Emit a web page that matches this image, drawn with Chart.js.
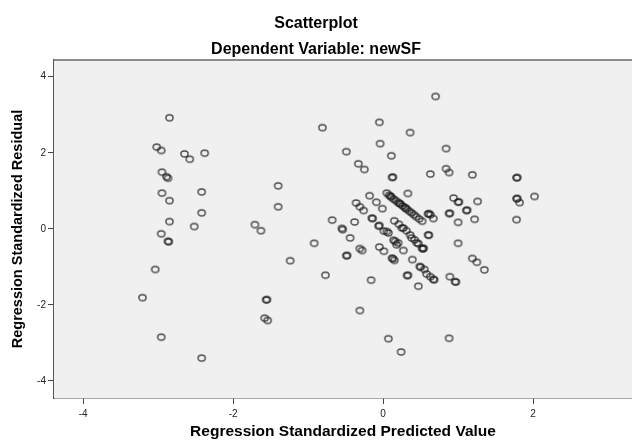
<!DOCTYPE html>
<html>
<head>
<meta charset="utf-8">
<script src="https://cdn.jsdelivr.net/npm/chart.js@4.4.1/dist/chart.umd.min.js"></script>
<style>
  html, body { margin: 0; padding: 0; background: #ffffff; }
  #wrap { width: 632px; height: 440px; }
</style>
</head>
<body>
<div id="wrap"><canvas id="chart" width="632" height="440"></canvas></div>
<script>
// Regression residual diagnostics: standardized predicted value (x) vs standardized residual (y)
const chartTitle = 'Scatterplot';
const chartSubtitle = 'Dependent Variable: newSF';
const xAxisTitle = 'Regression Standardized Predicted Value';
const yAxisTitle = 'Regression Standardized Residual';
const xTickValues = [-4, -2, 0, 2];
const yTickValues = [-4, -2, 0, 2, 4];

// Cases with low predicted values
const lowGroup = [
  [-2.85, 2.92], [-3.02, 2.15], [-2.96, 2.06], [-2.65, 1.97], [-2.58, 1.83], [-2.38, 1.99],
  [-2.95, 1.49], [-2.89, 1.37], [-2.87, 1.33], [-2.95, 0.94], [-2.85, 0.74], [-2.42, 0.97],
  [-2.42, 0.42], [-2.85, 0.19], [-2.52, 0.06], [-2.96, -0.13], [-2.87, -0.33], [-2.86, -0.34],
  [-3.04, -1.07], [-3.21, -1.81], [-2.96, -2.85], [-2.42, -3.40]
];

// Cases between -2 and -1
const midLowGroup = [
  [-1.40, 1.13], [-1.40, 0.58], [-1.71, 0.11], [-1.63, -0.05], [-1.24, -0.84],
  [-1.55, -1.86], [-1.56, -1.87], [-1.58, -2.35], [-1.54, -2.41]
];

// Cases around zero
const centerGroup = [
  [-0.81, 2.66], [-0.92, -0.38], [-0.77, -1.22], [-0.68, 0.23], [-0.55, 0.01], [-0.54, -0.02],
  [-0.49, 2.03], [-0.44, -0.24], [-0.48, -0.70], [-0.49, -0.71], [-0.38, 0.18], [-0.36, 0.68],
  [-0.31, 0.58], [-0.26, 0.48], [-0.33, 1.71], [-0.25, 1.56], [-0.31, -0.52], [-0.28, -0.57],
  [-0.31, -2.15], [-0.18, 0.87], [-0.09, 0.70], [-0.01, 0.53], [-0.15, 0.28], [-0.14, 0.27],
  [-0.05, 0.09], [-0.06, 0.07], [-0.16, -1.35], [-0.05, -0.48], [0.01, -0.59], [-0.05, 2.80],
  [-0.04, 2.24], [0.05, 0.94], [0.11, 1.92], [0.12, 1.35], [0.13, 1.36], [0.36, 2.53],
  [0.33, 0.93], [0.07, -2.89], [0.24, -3.24], [0.70, 3.48], [0.01, -0.06], [0.07, -0.11],
  [0.05, -0.07], [0.14, -0.30], [0.16, -0.33], [0.18, -0.42], [0.20, -0.37], [0.27, -0.57],
  [0.12, -0.77], [0.13, -0.79], [0.15, -0.83], [0.39, -0.81], [0.32, -1.23], [0.33, -1.22],
  [0.47, -1.51], [0.49, -0.99], [0.55, -1.07], [0.50, -1.01], [0.58, -1.19], [0.63, -1.26],
  [0.68, -1.34], [0.67, -1.33]
];

// Dense diagonal bands just right of zero
const bandUpper = [
  [0.08, 0.88], [0.11, 0.83], [0.14, 0.78], [0.17, 0.74], [0.20, 0.69], [0.23, 0.65],
  [0.26, 0.60], [0.29, 0.56], [0.32, 0.51], [0.35, 0.46], [0.38, 0.42], [0.41, 0.37],
  [0.44, 0.32], [0.48, 0.26], [0.52, 0.20], [0.10, 0.86], [0.22, 0.67], [0.30, 0.54]
];
const bandLower = [
  [0.15, 0.21], [0.21, 0.12], [0.25, 0.02], [0.27, 0.02], [0.31, -0.05], [0.36, -0.16],
  [0.38, -0.24], [0.42, -0.29], [0.45, -0.37], [0.47, -0.39], [0.52, -0.51], [0.53, -0.53]
];

// Cases with higher predicted values
const highGroup = [
  [0.63, 1.44], [0.84, 2.11], [0.84, 1.58], [0.88, 1.48], [1.19, 1.42], [1.78, 1.34], [1.79, 1.35],
  [0.94, 0.81], [1.00, 0.70], [1.01, 0.71], [1.26, 0.72], [1.78, 0.79], [1.79, 0.80], [1.82, 0.69],
  [2.02, 0.85], [0.60, 0.39], [0.61, 0.40], [0.67, 0.27], [0.63, 0.37], [0.88, 0.40], [0.89, 0.41],
  [1.11, 0.48], [1.12, 0.49], [1.00, 0.17], [1.22, 0.25], [1.78, 0.24], [1.00, -0.38],
  [1.19, -0.78], [1.25, -0.88], [1.35, -1.08], [0.89, -1.26], [0.96, -1.39], [0.97, -1.40],
  [0.88, -2.88], [0.54, -0.51], [0.60, -0.16], [0.61, -0.17]
];

const allCases = [].concat(lowGroup, midLowGroup, centerGroup, bandUpper, bandLower, highGroup)
  .map(([x, y]) => ({ x, y }));

// Small open ring used as the marker
function ringMarker() {
  const c = document.createElement('canvas');
  c.width = 11; c.height = 10;
  const g = c.getContext('2d');
  g.strokeStyle = 'rgba(25,25,25,0.78)';
  g.lineWidth = 1.4;
  g.beginPath();
  g.ellipse(5.5, 5, 3.6, 3.0, 0, 0, Math.PI * 2);
  g.stroke();
  return c;
}

// Light grey plotting panel with a grey top edge
const plotPanel = {
  id: 'plotPanel',
  beforeDatasetsDraw(chart) {
    const { ctx, chartArea: a } = chart;
    ctx.save();
    ctx.fillStyle = '#f0f0f0';
    ctx.fillRect(a.left, a.top, a.right - a.left, a.bottom - a.top);
    ctx.strokeStyle = '#8c8c8c';
    ctx.lineWidth = 2;
    ctx.beginPath();
    ctx.moveTo(a.left, a.top);
    ctx.lineTo(a.right, a.top);
    ctx.stroke();
    ctx.restore();
  }
};

const family = '"Liberation Sans", Arial, sans-serif';
const tickFont = { family, size: 10 };

new Chart(document.getElementById('chart'), {
  type: 'scatter',
  data: {
    datasets: [{
      data: allCases,
      pointStyle: ringMarker(),
      pointRadius: 4,
      pointHoverRadius: 4
    }]
  },
  options: {
    responsive: false,
    animation: false,
    devicePixelRatio: 1,
    layout: { padding: 0, autoPadding: false },
    plugins: {
      legend: { display: false },
      tooltip: { enabled: false },
      title: {
        display: true, text: chartTitle, color: '#000',
        font: { family, size: 16, weight: 'bold' }, padding: { top: 14, bottom: 5 }
      },
      subtitle: {
        display: true, text: chartSubtitle, color: '#000',
        font: { family, size: 16, weight: 'bold' }, padding: { top: 1.5, bottom: 1.1 }
      }
    },
    scales: {
      x: {
        type: 'linear', min: -4.39, max: 3.32,
        afterBuildTicks: s => { s.ticks = xTickValues.map(v => ({ value: v })); },
        afterFit: s => { s.height = 42; },
        ticks: { font: tickFont, color: '#222', padding: 4 },
        grid: { drawOnChartArea: false, tickLength: 6, color: '#444' },
        border: { color: '#555', width: 1.5 },
        title: { display: true, text: xAxisTitle, color: '#000', font: { family, size: 15.5, weight: 'bold' }, padding: { top: 0, bottom: -1.5 } }
      },
      y: {
        type: 'linear', min: -4.45, max: 4.44,
        afterBuildTicks: s => { s.ticks = yTickValues.map(v => ({ value: v })); },
        afterFit: s => { s.width = 54; },
        ticks: { font: tickFont, color: '#222', padding: 2 },
        grid: { drawOnChartArea: false, tickLength: 6, color: '#444' },
        border: { color: '#555', width: 1.5 },
        title: { display: true, text: yAxisTitle, color: '#000', font: { family, size: 14.5, weight: 'bold' }, padding: { top: 9.5, bottom: 0 } }
      }
    }
  },
  plugins: [plotPanel]
});
</script>
</body>
</html>
